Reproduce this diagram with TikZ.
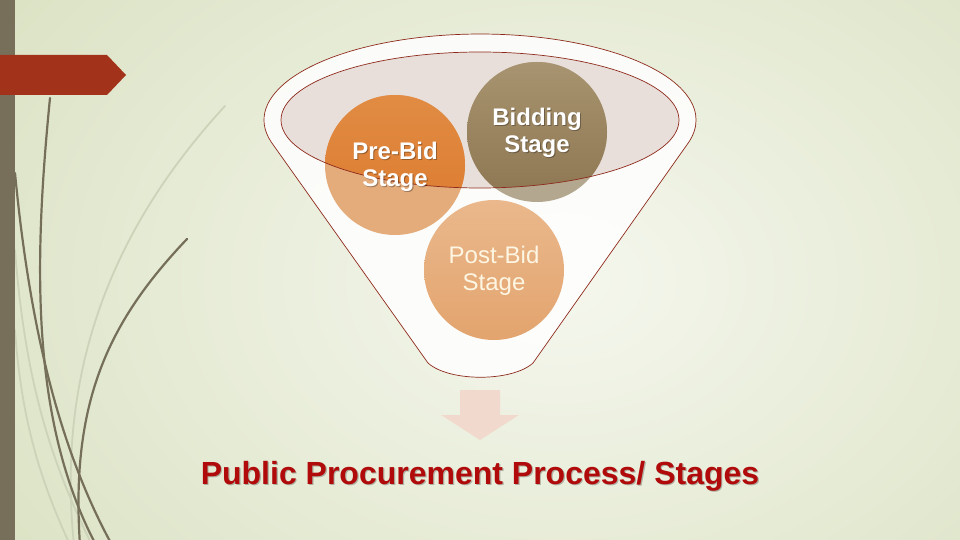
\documentclass[tikz,border=0pt]{standalone}
\usepackage{fontspec}
\setmainfont{Liberation Sans}
\definecolor{bgin}{HTML}{F5F7EE}
\definecolor{bgout}{HTML}{DCE3C5}
\definecolor{barcol}{HTML}{776F5A}
\definecolor{bannercol}{HTML}{A2321A}
\definecolor{grassdark}{HTML}{756E58}
\definecolor{grasslight}{HTML}{CDD3B9}
\definecolor{funnelline}{HTML}{8E2A1C}
\definecolor{ellfill}{HTML}{E9DFDA}
\definecolor{preout}{HTML}{E4AB7B}
\definecolor{pretop}{HTML}{E18B43}
\definecolor{prebot}{HTML}{DC7A2E}
\definecolor{bidout}{HTML}{B3A88F}
\definecolor{bidtop}{HTML}{A89470}
\definecolor{bidbot}{HTML}{8D7551}
\definecolor{posttop}{HTML}{EAB88C}
\definecolor{postbot}{HTML}{E3A46E}
\definecolor{posttext}{HTML}{FDF6E3}
\definecolor{arrowcol}{HTML}{F2D9CD}
\definecolor{titlecol}{HTML}{B00A0A}
\tikzset{
  grassd/.style={draw=grassdark, line width=2.2pt, line cap=round},
  grassl/.style={draw=grasslight, line width=1.8pt, line cap=round},
  stagetext/.style={align=center, font=\fontsize{24}{27}\selectfont\bfseries, text=white},
  shadowtext/.style={align=center, font=\fontsize{24}{27}\selectfont\bfseries, text=black, opacity=0.3},
  stagecircle/.style={circle, minimum size=140pt, inner sep=0pt},
}
\begin{document}
\begin{tikzpicture}[x=1pt,y=-1pt]
\useasboundingbox (0,0) rectangle (960,540);
\clip (0,0) rectangle (960,540);
% background
\shade[inner color=bgin, outer color=bgout] (-100,-200) rectangle (1220,760);
% grass blades
\draw[grassl] (225,106) .. controls (120,220) and (55,360) .. (74,545);
\draw[grassl] (15,250) .. controls (25,380) and (50,460) .. (92,545);
\draw[grassl] (15,330) .. controls (22,430) and (45,490) .. (70,545);
\draw[grassd] (50,98) .. controls (34,260) and (30,420) .. (96,545);
\draw[grassd] (15,173) .. controls (30,330) and (60,450) .. (112,545);
\draw[grassd] (187,239) .. controls (110,320) and (70,400) .. (80,545);
% left bar and banner
\fill[barcol] (0,0) rectangle (15,540);
\fill[bannercol] (0,55) -- (107,55) -- (126,75) -- (107,95) -- (0,95) -- cycle;
% funnel
\path[fill=white, fill opacity=0.85] (271.4,142.3) arc[start angle=165, end angle=375, x radius=216, y radius=86] -- (533,363) .. controls (512,382) and (449,382) .. (428,363) -- cycle;
\draw[funnelline, line width=0.7pt] (271.4,142.3) arc[start angle=165, end angle=375, x radius=216, y radius=86] -- (533,363) .. controls (512,382) and (449,382) .. (428,363) -- cycle;
\fill[ellfill] (480,120) ellipse [x radius=199, y radius=68];
% circles
\node[stagecircle, fill=preout] (pre) at (395,165) {};
\node[stagecircle, fill=bidout] (bid) at (537,132) {};
\node[stagecircle, top color=posttop, bottom color=postbot] (post) at (494,270) {};
\begin{scope}
\clip (480,120) ellipse [x radius=199, y radius=68];
\shade[top color=pretop, bottom color=prebot] (395,165) circle [radius=70];
\shade[top color=bidtop, bottom color=bidbot] (537,132) circle [radius=70];
\end{scope}
\draw[funnelline, line width=0.7pt] (480,120) ellipse [x radius=199, y radius=68];
% texts
\node[shadowtext] at (396,168) {Pre-Bid\\Stage};
\node[stagetext] (pretext) at (395,167) {Pre-Bid\\Stage};
\node[shadowtext] at (538,134) {Bidding\\Stage};
\node[stagetext] (bidtext) at (537,133) {Bidding\\Stage};
\node[align=center, font=\fontsize{24}{27}\selectfont, text=posttext] (posttxt) at (494,271) {Post-Bid\\Stage};
% arrow
\fill[arrowcol] (460,390) -- (500,390) -- (500,415) -- (519,415) -- (480,440) -- (441,415) -- (460,415) -- cycle;
% title
\node[font=\fontsize{32}{36}\selectfont\bfseries, text=black, opacity=0.25] at (481.2,477.7) {Public Procurement Process/ Stages};
\node[font=\fontsize{32}{36}\selectfont\bfseries, text=titlecol] (title) at (480,476.5) {Public Procurement Process/ Stages};
\end{tikzpicture}
\end{document}
